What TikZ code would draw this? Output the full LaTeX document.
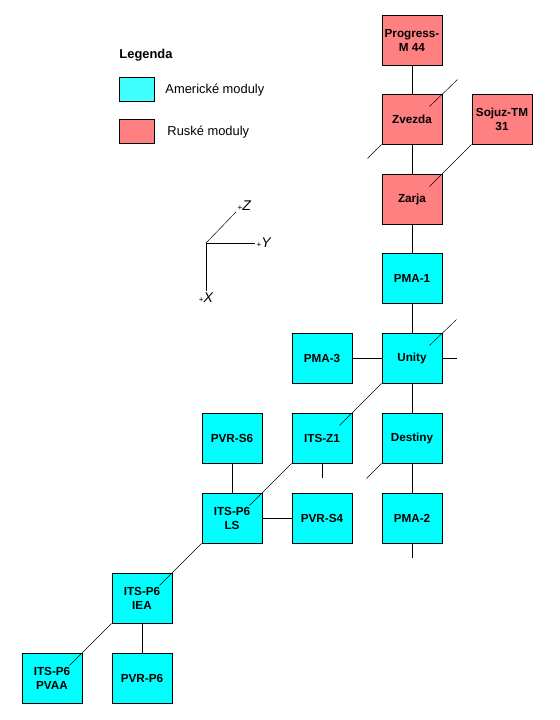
\documentclass[tikz,border=0pt]{standalone}
\usepackage{fontspec}
\setmainfont{Liberation Sans}
\usepackage{tikz}
\usetikzlibrary{positioning}

\definecolor{usblue}{RGB}{0,255,255}
\definecolor{uslegend}{RGB}{64,255,255}
\definecolor{rured}{RGB}{255,128,128}

\begin{document}
\begin{tikzpicture}[x=0.03cm,y=-0.03cm,line width=0.8pt]
  \tikzstyle{modul}=[draw,minimum width=1.8cm,minimum height=1.5cm,inner sep=0pt,align=center,font=\bfseries\fontsize{10}{12}\selectfont]
  \tikzstyle{us}=[modul,fill=usblue]
  \tikzstyle{ru}=[modul,fill=rured]
  \tikzstyle{legbox}=[draw,minimum width=1.05cm,minimum height=0.72cm,inner sep=0pt]
  \tikzstyle{legtext}=[anchor=west,inner sep=0pt,font=\fontsize{11}{13}\selectfont]
  \tikzstyle{diag}=[line width=0.4pt]
  \tikzstyle{axis}=[font=\fontsize{12}{14}\selectfont\itshape,inner sep=1pt]

  \useasboundingbox (0,0) rectangle (560,720);

  % legenda
  \node[legtext,font=\bfseries\fontsize{11}{13}\selectfont] (legenda) at (119,55) {Legenda};
  \node[legbox,fill=uslegend] (leg-us) at (136.5,89) {};
  \node[legtext] (leg-us-t) at (165,90) {Americké moduly};
  \node[legbox,fill=rured] (leg-ru) at (136.5,131) {};
  \node[legtext] (leg-ru-t) at (167,132) {Ruské moduly};

  % osy
  \coordinate (o) at (206,243);
  \node[axis,anchor=west] (ax-y) at (255,243) {{\fontsize{7}{8}\selectfont\upshape+}Y};
  \node[axis,anchor=south west] (ax-z) at (236,212) {{\fontsize{7}{8}\selectfont\upshape+}Z};
  \node[axis,anchor=north] (ax-x) at (206,291) {{\fontsize{7}{8}\selectfont\upshape+}X};
  \draw[line width=0.6pt] (o) -- (ax-y.west);
  \draw[diag] (o) -- (ax-z.south west);
  \draw[line width=0.6pt] (o) -- (ax-x.north);

  % ruske moduly
  \node[ru] (progress) at (412,40) {Progress-\\M 44};
  \node[ru] (zvezda) at (412,119) {Zvezda};
  \node[ru] (sojuz) at (502,119) {Sojuz-TM\\31};
  \node[ru] (zarja) at (412,199) {Zarja};

  % americke moduly
  \node[us] (pma1) at (412,278) {PMA-1};
  \node[us] (unity) at (412,358) {Unity};
  \node[us] (pma3) at (322,358) {PMA-3};
  \node[us] (destiny) at (412,438) {Destiny};
  \node[us] (itsz1) at (322,438) {ITS-Z1};
  \node[us] (pma2) at (412,518) {PMA-2};
  \node[us] (pvrs4) at (322,518) {PVR-S4};
  \node[us] (pvrs6) at (232,438) {PVR-S6};
  \node[us] (ls) at (232,518) {ITS-P6\\LS};
  \node[us] (iea) at (142,598) {ITS-P6\\IEA};
  \node[us] (pvrp6) at (142,678) {PVR-P6};
  \node[us] (pvaa) at (52,678) {ITS-P6\\PVAA};

  % volne konce
  \coordinate (zv-ne) at ([shift={(15,-14)}]zvezda.north east);
  \coordinate (zv-sw) at ([shift={(-14,14)}]zvezda.south west);
  \coordinate (un-ne) at ([shift={(14,-13)}]unity.north east);
  \coordinate (un-e) at ([shift={(15,0)}]unity.east);
  \coordinate (z1-s) at ([shift={(0,15)}]itsz1.south);
  \coordinate (de-sw) at ([shift={(-15,15)}]destiny.south west);
  \coordinate (pm2-s) at ([shift={(0,15)}]pma2.south);

  % svisle a vodorovne spoje
  \draw (progress) -- (zvezda);
  \draw (zvezda) -- (zarja);
  \draw (zarja) -- (pma1);
  \draw (pma1) -- (unity);
  \draw (unity) -- (destiny);
  \draw (destiny) -- (pma2);
  \draw (pma3) -- (unity);
  \draw (unity.east) -- (un-e);
  \draw (itsz1.south) -- (z1-s);
  \draw (pma2.south) -- (pm2-s);
  \draw (pvrs6) -- (ls);
  \draw (ls) -- (pvrs4);
  \draw (iea) -- (pvrp6);

  % sikme spoje
  \draw[diag] ([shift={(-13,13)}]zvezda.north east) -- (zv-ne);
  \draw[diag] (zvezda.south west) -- (zv-sw);
  \draw[diag] (sojuz.south west) -- ([shift={(-13,13)}]zarja.north east);
  \draw[diag] ([shift={(-13,13)}]unity.north east) -- (un-ne);
  \draw[diag] (unity.south west) -- ([shift={(-13,13)}]itsz1.north east);
  \draw[diag] (destiny.south west) -- (de-sw);
  \draw[diag] (itsz1.south west) -- ([shift={(-13,13)}]ls.north east);
  \draw[diag] (ls.south west) -- ([shift={(-13,13)}]iea.north east);
  \draw[diag] (iea.south west) -- ([shift={(-13,13)}]pvaa.north east);
\end{tikzpicture}
\end{document}
